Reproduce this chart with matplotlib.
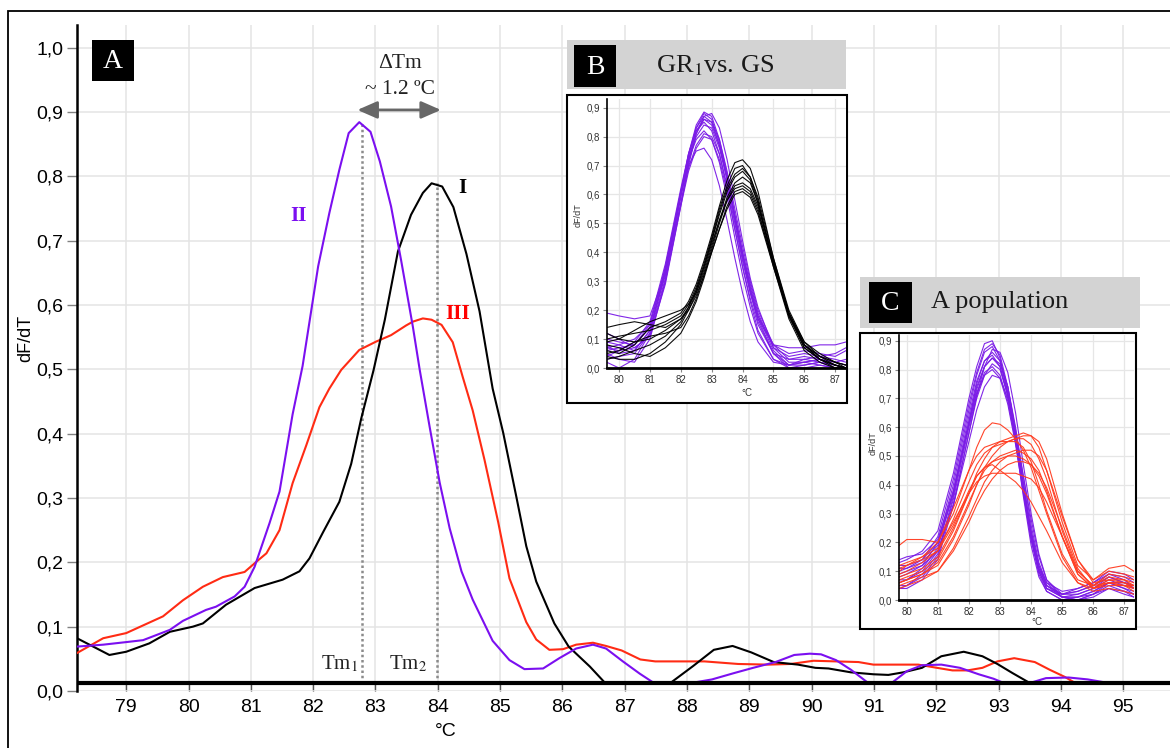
import numpy as np
import matplotlib
matplotlib.use('Agg')
import matplotlib.pyplot as plt
from matplotlib.patches import Rectangle

plt.rcParams['font.family'] = 'Liberation Sans'
plt.rcParams['mathtext.fontset'] = 'stix'

# ---------------- panel A : melt curves ----------------
x_I = [78.21, 78.73, 79.0, 79.37, 79.70, 80.07, 80.23, 80.60, 81.06, 81.51, 81.78, 81.94,
       82.16, 82.42, 82.61, 82.77, 82.97, 83.15, 83.36, 83.57, 83.76, 83.90, 84.07, 84.25,
       84.46, 84.67, 84.88, 85.05, 85.26, 85.42, 85.58, 85.87, 86.10, 86.44, 86.68, 87.74,
       88.10, 88.43, 88.73, 89.03, 89.39, 89.78, 90.06, 90.27, 90.63, 90.99, 91.23, 91.47,
       91.77, 92.08, 92.44, 92.74, 92.98, 93.22, 93.49, 95.8]
y_I = [0.082, 0.056, 0.061, 0.074, 0.092, 0.100, 0.105, 0.134, 0.160, 0.173, 0.186, 0.206,
       0.247, 0.294, 0.353, 0.423, 0.499, 0.577, 0.683, 0.740, 0.774, 0.789, 0.784, 0.752,
       0.679, 0.590, 0.470, 0.401, 0.302, 0.225, 0.170, 0.105, 0.069, 0.038, 0.013, 0.013,
       0.039, 0.064, 0.070, 0.060, 0.045, 0.041, 0.036, 0.035, 0.029, 0.026, 0.025, 0.029,
       0.036, 0.054, 0.061, 0.054, 0.042, 0.028, 0.013, 0.013]

x_II = [78.21, 78.63, 79.0, 79.27, 79.70, 79.91, 80.28, 80.44, 80.74, 80.90, 81.06, 81.30,
        81.46, 81.67, 81.83, 82.08, 82.26, 82.42, 82.57, 82.74, 82.92, 83.07, 83.25, 83.41,
        83.60, 83.71, 83.87, 84.03, 84.19, 84.38, 84.56, 84.88, 85.15, 85.39, 85.69, 85.95,
        86.22, 86.49, 86.70, 86.97, 87.24, 87.46, 88.10, 88.40, 88.76, 89.06, 89.42, 89.72,
        89.97, 90.15, 90.39, 90.63, 90.90, 91.29, 91.53, 91.77, 92.08, 92.38, 92.68, 92.92,
        93.07, 93.52, 93.76, 94.12, 94.43, 94.73, 95.8]
y_II = [0.069, 0.072, 0.076, 0.079, 0.095, 0.109, 0.126, 0.131, 0.147, 0.162, 0.193, 0.261,
        0.310, 0.430, 0.505, 0.660, 0.743, 0.810, 0.867, 0.884, 0.869, 0.823, 0.753, 0.670,
        0.566, 0.499, 0.410, 0.324, 0.253, 0.186, 0.142, 0.078, 0.048, 0.034, 0.035, 0.051,
        0.066, 0.072, 0.066, 0.046, 0.027, 0.013, 0.013, 0.018, 0.028, 0.036, 0.045, 0.056,
        0.058, 0.057, 0.048, 0.033, 0.013, 0.013, 0.031, 0.040, 0.041, 0.036, 0.026, 0.019,
        0.013, 0.013, 0.020, 0.021, 0.018, 0.013, 0.013]

x_III = [78.21, 78.63, 79.0, 79.59, 79.91, 80.23, 80.55, 80.90, 81.09, 81.25, 81.46, 81.67,
         81.89, 82.10, 82.26, 82.45, 82.74, 83.01, 83.25, 83.49, 83.60, 83.76, 83.90, 84.06,
         84.24, 84.40, 84.56, 84.75, 84.97, 85.15, 85.42, 85.58, 85.79, 86.01, 86.22, 86.49,
         86.70, 86.95, 87.25, 87.49, 88.28, 88.82, 89.30, 89.66, 90.03, 90.75, 90.99, 91.71,
         92.01, 92.26, 92.50, 92.74, 92.98, 93.25, 93.58, 93.82, 94.06, 94.22, 95.8]
y_III = [0.059, 0.082, 0.090, 0.116, 0.141, 0.162, 0.177, 0.185, 0.201, 0.214, 0.250, 0.323,
         0.382, 0.441, 0.470, 0.499, 0.530, 0.543, 0.553, 0.568, 0.574, 0.579, 0.577, 0.569,
         0.542, 0.488, 0.436, 0.359, 0.262, 0.175, 0.107, 0.080, 0.064, 0.065, 0.072, 0.075,
         0.070, 0.063, 0.049, 0.046, 0.046, 0.042, 0.041, 0.042, 0.047, 0.045, 0.041, 0.041,
         0.036, 0.032, 0.032, 0.036, 0.046, 0.051, 0.045, 0.033, 0.022, 0.013, 0.013]

tm1 = 82.78
tm2 = 83.98
baseline = 0.013
yt = [0.0, 0.1, 0.2, 0.3, 0.4, 0.5, 0.6, 0.7, 0.8, 0.9, 1.0]

# ---------------- panel B : GR1 vs GS ----------------
xb = [79.6, 80.0, 80.5, 81.0, 81.5, 82.0, 82.25, 82.5, 82.75, 83.0, 83.25, 83.5, 83.75,
      84.0, 84.25, 84.5, 85.0, 85.5, 86.0, 86.5, 87.0, 87.35]
b_purple = [
    [0.06, 0.07, 0.08, 0.14, 0.32, 0.60, 0.74, 0.84, 0.885, 0.87, 0.79, 0.67, 0.53, 0.40, 0.28, 0.18, 0.06, 0.01, 0.01, 0.02, 0.01, 0.00],
    [0.08, 0.05, 0.06, 0.13, 0.33, 0.61, 0.74, 0.83, 0.87, 0.85, 0.77, 0.65, 0.51, 0.38, 0.26, 0.16, 0.05, 0.00, 0.00, 0.01, 0.00, 0.00],
    [0.03, 0.04, 0.05, 0.12, 0.31, 0.59, 0.72, 0.82, 0.86, 0.84, 0.77, 0.66, 0.53, 0.40, 0.29, 0.19, 0.07, 0.04, 0.05, 0.04, 0.03, 0.02],
    [0.10, 0.09, 0.08, 0.15, 0.34, 0.60, 0.72, 0.80, 0.84, 0.83, 0.76, 0.65, 0.52, 0.39, 0.27, 0.18, 0.08, 0.05, 0.06, 0.05, 0.04, 0.06],
    [0.19, 0.18, 0.17, 0.18, 0.33, 0.57, 0.69, 0.77, 0.81, 0.80, 0.74, 0.63, 0.50, 0.37, 0.26, 0.17, 0.08, 0.07, 0.07, 0.08, 0.08, 0.09],
    [0.05, 0.03, 0.02, 0.10, 0.30, 0.56, 0.68, 0.76, 0.80, 0.79, 0.72, 0.61, 0.48, 0.35, 0.23, 0.13, 0.03, 0.01, 0.03, 0.02, 0.00, 0.00],
    [0.02, 0.00, 0.03, 0.12, 0.35, 0.60, 0.70, 0.75, 0.76, 0.72, 0.63, 0.51, 0.38, 0.26, 0.16, 0.09, 0.02, 0.01, 0.02, 0.01, 0.00, 0.00],
    [0.07, 0.06, 0.07, 0.11, 0.29, 0.56, 0.70, 0.81, 0.87, 0.88, 0.83, 0.72, 0.58, 0.44, 0.31, 0.21, 0.07, 0.02, 0.02, 0.03, 0.01, 0.00],
    [0.09, 0.08, 0.06, 0.13, 0.33, 0.60, 0.73, 0.83, 0.88, 0.86, 0.78, 0.66, 0.52, 0.39, 0.27, 0.17, 0.05, 0.01, 0.02, 0.03, 0.02, 0.01],
    [0.04, 0.06, 0.09, 0.16, 0.36, 0.62, 0.74, 0.82, 0.85, 0.82, 0.74, 0.62, 0.48, 0.35, 0.24, 0.15, 0.05, 0.03, 0.04, 0.03, 0.02, 0.03],
    [0.12, 0.10, 0.07, 0.11, 0.30, 0.57, 0.71, 0.81, 0.86, 0.85, 0.79, 0.68, 0.55, 0.42, 0.30, 0.20, 0.08, 0.03, 0.03, 0.04, 0.05, 0.07],
    [0.07, 0.08, 0.10, 0.15, 0.35, 0.61, 0.72, 0.79, 0.82, 0.79, 0.71, 0.59, 0.45, 0.32, 0.21, 0.12, 0.03, 0.00, 0.01, 0.02, 0.01, 0.00],
]
b_black = [
    [0.06, 0.05, 0.08, 0.14, 0.16, 0.19, 0.23, 0.29, 0.37, 0.46, 0.56, 0.65, 0.71, 0.72, 0.69, 0.61, 0.38, 0.19, 0.08, 0.04, 0.01, 0.00],
    [0.10, 0.11, 0.12, 0.13, 0.15, 0.18, 0.22, 0.28, 0.36, 0.45, 0.55, 0.63, 0.69, 0.70, 0.66, 0.58, 0.36, 0.18, 0.08, 0.03, 0.01, 0.00],
    [0.03, 0.04, 0.06, 0.08, 0.11, 0.16, 0.21, 0.27, 0.35, 0.44, 0.53, 0.61, 0.66, 0.68, 0.65, 0.57, 0.36, 0.18, 0.07, 0.03, 0.00, 0.00],
    [0.14, 0.15, 0.16, 0.15, 0.14, 0.17, 0.20, 0.25, 0.32, 0.41, 0.50, 0.58, 0.63, 0.64, 0.62, 0.56, 0.37, 0.19, 0.09, 0.04, 0.02, 0.01],
    [0.08, 0.07, 0.05, 0.04, 0.07, 0.12, 0.17, 0.23, 0.31, 0.40, 0.48, 0.56, 0.61, 0.62, 0.60, 0.54, 0.36, 0.19, 0.08, 0.04, 0.02, 0.00],
    [0.05, 0.06, 0.09, 0.11, 0.12, 0.14, 0.18, 0.24, 0.32, 0.40, 0.48, 0.55, 0.60, 0.61, 0.59, 0.53, 0.35, 0.18, 0.07, 0.03, 0.01, 0.00],
    [0.12, 0.10, 0.09, 0.10, 0.13, 0.17, 0.21, 0.27, 0.35, 0.44, 0.54, 0.62, 0.67, 0.69, 0.66, 0.59, 0.38, 0.20, 0.09, 0.05, 0.02, 0.01],
    [0.04, 0.03, 0.03, 0.05, 0.09, 0.15, 0.20, 0.26, 0.34, 0.43, 0.51, 0.58, 0.62, 0.63, 0.61, 0.55, 0.35, 0.17, 0.06, 0.02, 0.00, 0.00],
    [0.09, 0.10, 0.13, 0.16, 0.18, 0.20, 0.22, 0.26, 0.33, 0.42, 0.51, 0.59, 0.64, 0.66, 0.64, 0.57, 0.37, 0.19, 0.08, 0.03, 0.01, 0.00],
]

# ---------------- panel C : A population ----------------
xc = [79.76, 80.0, 80.5, 81.0, 81.5, 82.0, 82.25, 82.5, 82.75, 83.0, 83.25, 83.5, 83.75,
      84.0, 84.25, 84.5, 85.0, 85.5, 86.0, 86.5, 87.0, 87.31]
c_purple = [
    [0.13, 0.14, 0.17, 0.24, 0.44, 0.70, 0.81, 0.89, 0.90, 0.84, 0.72, 0.55, 0.36, 0.19, 0.08, 0.03, 0.00, 0.00, 0.02, 0.05, 0.03, 0.02],
    [0.08, 0.09, 0.12, 0.20, 0.40, 0.66, 0.78, 0.86, 0.88, 0.83, 0.72, 0.56, 0.38, 0.21, 0.10, 0.04, 0.01, 0.02, 0.04, 0.07, 0.05, 0.04],
    [0.11, 0.11, 0.13, 0.19, 0.37, 0.62, 0.75, 0.83, 0.86, 0.83, 0.74, 0.59, 0.41, 0.24, 0.12, 0.05, 0.01, 0.01, 0.03, 0.06, 0.06, 0.05],
    [0.05, 0.05, 0.09, 0.16, 0.36, 0.62, 0.74, 0.81, 0.84, 0.81, 0.71, 0.56, 0.38, 0.22, 0.10, 0.04, 0.02, 0.03, 0.05, 0.09, 0.07, 0.04],
    [0.04, 0.04, 0.07, 0.14, 0.33, 0.58, 0.70, 0.78, 0.82, 0.80, 0.71, 0.57, 0.40, 0.24, 0.12, 0.06, 0.03, 0.04, 0.06, 0.10, 0.09, 0.07],
    [0.14, 0.15, 0.16, 0.21, 0.38, 0.61, 0.72, 0.78, 0.80, 0.77, 0.68, 0.54, 0.37, 0.21, 0.09, 0.03, 0.00, 0.01, 0.02, 0.04, 0.02, 0.01],
    [0.07, 0.07, 0.10, 0.17, 0.33, 0.55, 0.66, 0.74, 0.78, 0.77, 0.70, 0.58, 0.43, 0.28, 0.15, 0.07, 0.02, 0.03, 0.05, 0.08, 0.06, 0.05],
    [0.09, 0.10, 0.12, 0.17, 0.33, 0.58, 0.71, 0.81, 0.87, 0.86, 0.79, 0.65, 0.47, 0.30, 0.16, 0.07, 0.01, 0.00, 0.02, 0.06, 0.04, 0.02],
    [0.10, 0.11, 0.14, 0.22, 0.42, 0.68, 0.79, 0.87, 0.89, 0.85, 0.74, 0.58, 0.39, 0.22, 0.10, 0.04, 0.01, 0.01, 0.03, 0.06, 0.04, 0.03],
    [0.06, 0.07, 0.11, 0.18, 0.38, 0.64, 0.76, 0.83, 0.85, 0.81, 0.71, 0.56, 0.39, 0.23, 0.11, 0.05, 0.02, 0.02, 0.04, 0.08, 0.06, 0.04],
    [0.12, 0.12, 0.14, 0.20, 0.37, 0.61, 0.73, 0.81, 0.84, 0.82, 0.74, 0.60, 0.43, 0.26, 0.13, 0.06, 0.01, 0.00, 0.01, 0.04, 0.03, 0.01],
    [0.04, 0.05, 0.08, 0.15, 0.35, 0.60, 0.71, 0.79, 0.81, 0.78, 0.69, 0.55, 0.38, 0.22, 0.11, 0.05, 0.02, 0.04, 0.06, 0.09, 0.08, 0.06],
]
c_red = [
    [0.19, 0.21, 0.21, 0.20, 0.30, 0.45, 0.53, 0.59, 0.615, 0.61, 0.59, 0.56, 0.52, 0.46, 0.38, 0.30, 0.15, 0.06, 0.04, 0.06, 0.06, 0.05],
    [0.08, 0.09, 0.11, 0.15, 0.25, 0.37, 0.44, 0.49, 0.53, 0.55, 0.56, 0.57, 0.58, 0.57, 0.53, 0.45, 0.27, 0.12, 0.07, 0.10, 0.09, 0.08],
    [0.06, 0.07, 0.09, 0.12, 0.21, 0.33, 0.40, 0.46, 0.50, 0.53, 0.55, 0.56, 0.57, 0.57, 0.55, 0.49, 0.30, 0.14, 0.07, 0.11, 0.12, 0.10],
    [0.10, 0.12, 0.15, 0.20, 0.32, 0.45, 0.50, 0.53, 0.54, 0.55, 0.55, 0.55, 0.53, 0.48, 0.40, 0.31, 0.16, 0.07, 0.05, 0.08, 0.07, 0.05],
    [0.04, 0.05, 0.07, 0.10, 0.18, 0.29, 0.35, 0.41, 0.45, 0.48, 0.50, 0.51, 0.52, 0.52, 0.50, 0.45, 0.29, 0.14, 0.06, 0.07, 0.06, 0.04],
    [0.05, 0.06, 0.08, 0.10, 0.17, 0.27, 0.33, 0.38, 0.42, 0.45, 0.47, 0.48, 0.48, 0.47, 0.44, 0.39, 0.25, 0.11, 0.04, 0.05, 0.05, 0.04],
    [0.07, 0.08, 0.10, 0.14, 0.24, 0.37, 0.43, 0.46, 0.47, 0.45, 0.43, 0.41, 0.38, 0.34, 0.29, 0.24, 0.13, 0.06, 0.03, 0.04, 0.03, 0.02],
    [0.12, 0.13, 0.15, 0.18, 0.27, 0.37, 0.41, 0.43, 0.44, 0.44, 0.44, 0.44, 0.43, 0.42, 0.39, 0.34, 0.22, 0.10, 0.05, 0.06, 0.05, 0.05],
    [0.09, 0.10, 0.13, 0.17, 0.28, 0.41, 0.47, 0.51, 0.53, 0.54, 0.55, 0.56, 0.56, 0.54, 0.49, 0.42, 0.24, 0.10, 0.05, 0.09, 0.08, 0.07],
    [0.06, 0.07, 0.09, 0.13, 0.22, 0.34, 0.40, 0.45, 0.48, 0.50, 0.51, 0.52, 0.51, 0.49, 0.45, 0.38, 0.22, 0.09, 0.04, 0.06, 0.05, 0.03],
    [0.11, 0.12, 0.14, 0.17, 0.26, 0.38, 0.43, 0.46, 0.48, 0.49, 0.50, 0.50, 0.49, 0.47, 0.43, 0.37, 0.22, 0.09, 0.04, 0.07, 0.07, 0.06],
]

purple = '#7b0ff0'
red = '#ff2b14'
serif = 'Liberation Serif'

W, H = 1170.0, 748.0


def box(px, py, w, h):
    # pixel box, origin top-left -> figure fraction
    return [px / W, 1 - (py + h) / H, w / W, h / H]


def ftext(px, py, s, **kw):
    fig.text(px / W, 1 - py / H, s, ha='center', va='center', **kw)


def comma(v):
    return ('%.1f' % v).replace('.', ',')


fig = plt.figure(figsize=(11.7, 7.48), dpi=100)

# main axes
ax = fig.add_axes(box(77, 25, 1093, 666))
ax.set_xlim(78.21, 95.75)
ax.set_ylim(0, 1.035)
ax.set_xticks(range(79, 96))
ax.set_yticks(yt)
ax.set_yticklabels([comma(v) for v in yt])
ax.grid(True, color='#e4e4e4', lw=1.1)
ax.set_axisbelow(True)
for s in ['top', 'right', 'bottom']:
    ax.spines[s].set_visible(False)
ax.spines['left'].set_linewidth(1.8)
ax.tick_params(axis='y', direction='out', length=7, width=1, color='#808080',
               labelsize=14, pad=3)
ax.tick_params(axis='x', direction='in', length=6, width=1, color='#555555',
               labelsize=14, pad=6)

ax.plot([tm1, tm1], [baseline, max(y_II)], ls=(0, (1, 1.1)), color='#8a8a8a', lw=1.8, zorder=2)
ax.plot([tm2, tm2], [baseline, max(y_I)], ls=(0, (1, 1.1)), color='#8a8a8a', lw=1.8, zorder=2)

ax.plot(x_III, y_III, color=red, lw=1.5, zorder=3)
ax.plot(x_I, y_I, color='black', lw=1.5, zorder=3)
ax.plot(x_II, y_II, color=purple, lw=1.5, zorder=3)
ax.axhline(baseline, color='black', lw=3, zorder=5)

ax.annotate('', xy=(tm1 - 0.07, 0.903), xytext=(tm2 + 0.07, 0.903),
            arrowprops=dict(arrowstyle='<|-|>,head_length=0.8,head_width=0.35',
                            color='#676767', lw=2, mutation_scale=15,
                            shrinkA=0, shrinkB=0))
ax.text(83.39, 0.975, 'ΔTm', family=serif, fontsize=15.5, ha='center', va='center', color='#222222')
ax.text(83.39, 0.934, '~ 1.2 ºC', family=serif, fontsize=15.5, ha='center', va='center', color='#222222')
ax.text(82.43, 0.042, r'Tm$_1$', family=serif, fontsize=15, ha='center', va='center', color='#222222')
ax.text(83.53, 0.042, r'Tm$_2$', family=serif, fontsize=15, ha='center', va='center', color='#222222')
ax.text(84.40, 0.782, 'I', family=serif, fontsize=15, weight='bold', ha='center', va='center', color='black')
ax.text(81.77, 0.738, 'II', family=serif, fontsize=15, weight='bold', ha='center', va='center', color=purple)
ax.text(84.32, 0.586, 'III', family=serif, fontsize=15, weight='bold', ha='center', va='center', color='#ff0000')

ftext(446, 732, '°C', fontsize=14)
ftext(26, 338, 'dF/dT', fontsize=13, rotation=90)

# outer frame and letter A
fig.add_artist(Rectangle((8 / W, -0.05), 1.2, 1 - 11 / H + 0.05, transform=fig.transFigure,
                         fill=False, ec='black', lw=1.3))
fig.add_artist(Rectangle(box(92, 40, 42, 41)[:2], 42 / W, 41 / H, transform=fig.transFigure,
                         fc='black', ec='none'))
ftext(113, 61, 'A', family=serif, fontsize=20, color='white', zorder=4)


def inset(frame, bar, lbox, letter, title, title_xy, axbox, xlim, ylim, xs, groups,
          xlab_xy, ylab_xy):
    fx, fy, fw, fh = frame
    fig.add_artist(Rectangle(box(fx, fy, fw, fh)[:2], fw / W, fh / H, transform=fig.transFigure,
                             fc='white', ec='black', lw=1.5, zorder=1))
    bx, by, bw, bh = bar
    fig.add_artist(Rectangle(box(bx, by, bw, bh)[:2], bw / W, bh / H, transform=fig.transFigure,
                             fc='#d3d3d3', ec='none', zorder=1))
    lx, ly, lw_, lh = lbox
    fig.add_artist(Rectangle(box(lx, ly, lw_, lh)[:2], lw_ / W, lh / H, transform=fig.transFigure,
                             fc='black', ec='none', zorder=1.5))
    ftext(lx + lw_ / 2, ly + lh / 2 + 1, letter, family=serif, fontsize=20, color='white', zorder=4)
    ftext(title_xy[0], title_xy[1], title, family=serif, fontsize=19, color='#1a1a1a', zorder=4)

    a = fig.add_axes(box(*axbox))
    a.set_zorder(2)
    a.set_xlim(*xlim)
    a.set_ylim(*ylim)
    a.set_xticks(range(80, 88))
    a.set_yticks(yt[:10])
    a.set_yticklabels([comma(v) for v in yt[:10]])
    a.grid(True, color='#e6e6e6', lw=0.9)
    a.set_axisbelow(True)
    for s in ['top', 'right']:
        a.spines[s].set_visible(False)
    a.spines['left'].set_linewidth(1.2)
    a.spines['bottom'].set_linewidth(2)
    a.tick_params(labelsize=7, labelcolor='#333333', color='#888888', length=3, width=0.8, pad=2)
    for curves, col in groups:
        for ys in curves:
            a.plot(xs, ys, color=col, lw=0.8, alpha=0.95)
    ftext(xlab_xy[0], xlab_xy[1], '°C', fontsize=7, color='#333333', zorder=4)
    ftext(ylab_xy[0], ylab_xy[1], 'dF/dT', fontsize=6.5, rotation=90, color='#333333', zorder=4)
    return a


inset((567, 95, 280, 308), (567, 40, 279, 49), (574, 45, 42, 42), 'B',
      r'GR$_1$vs. GS', (715, 66),
      (606.7, 99, 239.3, 269), (79.6, 87.35), (0, 0.93), xb,
      [(b_purple, '#7a1be6'), (b_black, 'black')], (747, 393), (578, 215))

inset((860, 333, 276, 296), (860, 277, 280, 51), (869, 282, 43, 41), 'C',
      'A population', (1000, 302),
      (899.3, 335, 234.7, 265), (79.76, 87.31), (0, 0.92), xc,
      [(c_purple, '#7a1be6'), (c_red, '#ff3b1f')], (1037, 622), (873, 443))

plt.savefig('out.png', dpi=100)
